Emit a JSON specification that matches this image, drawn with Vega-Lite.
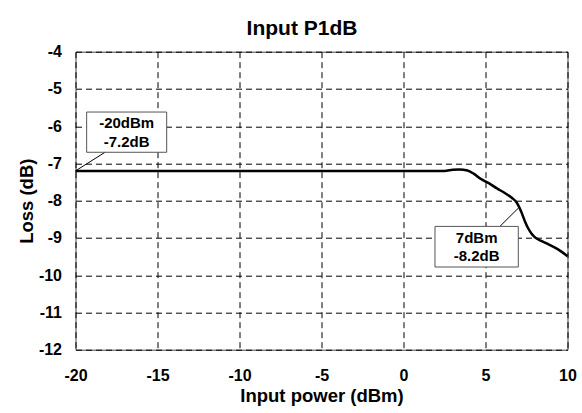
{
  "$schema": "https://vega.github.io/schema/vega-lite/v6.json",
  "width": 492,
  "height": 298,
  "autosize": "none",
  "padding": {"left": 75.5, "top": 51.7, "right": 14.5, "bottom": 63.3},
  "background": "white",
  "title": {"text": "Input P1dB", "font": "Liberation Sans", "fontSize": 21, "fontWeight": "bold", "color": "black", "offset": 5, "dx": -19.5},
  "config": {
    "view": {"stroke": "#444444", "strokeWidth": 1},
    "axis": {
      "labelFont": "Liberation Sans", "labelFontSize": 16, "labelFontWeight": "bold", "labelColor": "black",
      "titleFont": "Liberation Sans", "titleFontSize": 18.5, "titleFontWeight": "bold", "titleColor": "black",
      "grid": true, "gridColor": "black", "gridDash": [6, 4], "gridWidth": 1, "gridOpacity": 1,
      "domain": false, "ticks": false, "labelOverlap": false, "labelFlush": false,
      "labelExpr": "toString(datum.value)"
    }
  },
  "datasets": {
    "curve": [
      {"x": -20, "y": -7.2}, {"x": 2, "y": -7.2}, {"x": 2.5, "y": -7.2}, {"x": 3.0, "y": -7.17},
      {"x": 3.4, "y": -7.16}, {"x": 3.9, "y": -7.19}, {"x": 4.3, "y": -7.28}, {"x": 4.7, "y": -7.41},
      {"x": 5.2, "y": -7.53}, {"x": 5.7, "y": -7.67}, {"x": 6.2, "y": -7.8}, {"x": 6.6, "y": -7.92},
      {"x": 6.9, "y": -8.05}, {"x": 7.2, "y": -8.32}, {"x": 7.4, "y": -8.55}, {"x": 7.6, "y": -8.74},
      {"x": 7.8, "y": -8.88}, {"x": 8.0, "y": -8.98}, {"x": 8.4, "y": -9.08}, {"x": 8.8, "y": -9.16},
      {"x": 9.4, "y": -9.3}, {"x": 10, "y": -9.49}
    ],
    "notes": [
      {"px": -20, "py": -7.2, "lx": -18.2, "ly": -6.7, "x1": -19.32, "x2": -14.44, "y1": -5.62, "y2": -6.7, "cx": -16.88, "ty1": -6.05, "ty2": -6.56, "line1": "-20dBm", "line2": "-7.2dB"},
      {"px": 7, "py": -8.2, "lx": 5.88, "ly": -8.69, "x1": 1.92, "x2": 7.0, "y1": -8.69, "y2": -9.78, "cx": 4.46, "ty1": -9.14, "ty2": -9.63, "line1": "7dBm", "line2": "-8.2dB"}
    ]
  },
  "layer": [
    {
      "data": {"name": "curve"},
      "mark": {"type": "line", "color": "black", "strokeWidth": 2.5, "interpolate": "monotone"},
      "encoding": {
        "x": {"field": "x", "type": "quantitative", "scale": {"domain": [-20, 10], "nice": false}, "axis": {"values": [-20, -15, -10, -5, 0, 5, 10], "title": "Input power (dBm)", "labelPadding": 18, "titlePadding": 3}},
        "y": {"field": "y", "type": "quantitative", "scale": {"domain": [-12, -4], "nice": false, "zero": false}, "axis": {"values": [-12, -11, -10, -9, -8, -7, -6, -5, -4], "title": "Loss (dB)", "labelPadding": 14, "titlePadding": 2}}
      }
    },
    {
      "data": {"name": "notes"},
      "mark": {"type": "rule", "color": "black", "strokeWidth": 1},
      "encoding": {
        "x": {"field": "px", "type": "quantitative", "axis": {"values": [-20, -15, -10, -5, 0, 5, 10], "title": "Input power (dBm)", "labelPadding": 18, "titlePadding": 3}},
        "y": {"field": "py", "type": "quantitative", "axis": {"values": [-12, -11, -10, -9, -8, -7, -6, -5, -4], "title": "Loss (dB)", "labelPadding": 14, "titlePadding": 2}},
        "x2": {"field": "lx"},
        "y2": {"field": "ly"}
      }
    },
    {
      "data": {"name": "notes"},
      "mark": {"type": "rect", "fill": "white", "stroke": "#555555", "strokeWidth": 1},
      "encoding": {
        "x": {"field": "x1", "type": "quantitative", "axis": {"values": [-20, -15, -10, -5, 0, 5, 10], "title": "Input power (dBm)", "labelPadding": 18, "titlePadding": 3}},
        "x2": {"field": "x2"},
        "y": {"field": "y1", "type": "quantitative", "axis": {"values": [-12, -11, -10, -9, -8, -7, -6, -5, -4], "title": "Loss (dB)", "labelPadding": 14, "titlePadding": 2}},
        "y2": {"field": "y2"}
      }
    },
    {
      "data": {"name": "notes"},
      "mark": {"type": "text", "font": "Liberation Sans", "fontSize": 15, "fontWeight": "bold", "color": "black", "align": "center", "baseline": "alphabetic"},
      "encoding": {
        "x": {"field": "cx", "type": "quantitative", "axis": {"values": [-20, -15, -10, -5, 0, 5, 10], "title": "Input power (dBm)", "labelPadding": 18, "titlePadding": 3}},
        "y": {"field": "ty1", "type": "quantitative", "axis": {"values": [-12, -11, -10, -9, -8, -7, -6, -5, -4], "title": "Loss (dB)", "labelPadding": 14, "titlePadding": 2}},
        "text": {"field": "line1"}
      }
    },
    {
      "data": {"name": "notes"},
      "mark": {"type": "text", "font": "Liberation Sans", "fontSize": 15, "fontWeight": "bold", "color": "black", "align": "center", "baseline": "alphabetic"},
      "encoding": {
        "x": {"field": "cx", "type": "quantitative", "axis": {"values": [-20, -15, -10, -5, 0, 5, 10], "title": "Input power (dBm)", "labelPadding": 18, "titlePadding": 3}},
        "y": {"field": "ty2", "type": "quantitative", "axis": {"values": [-12, -11, -10, -9, -8, -7, -6, -5, -4], "title": "Loss (dB)", "labelPadding": 14, "titlePadding": 2}},
        "text": {"field": "line2"}
      }
    }
  ]
}
